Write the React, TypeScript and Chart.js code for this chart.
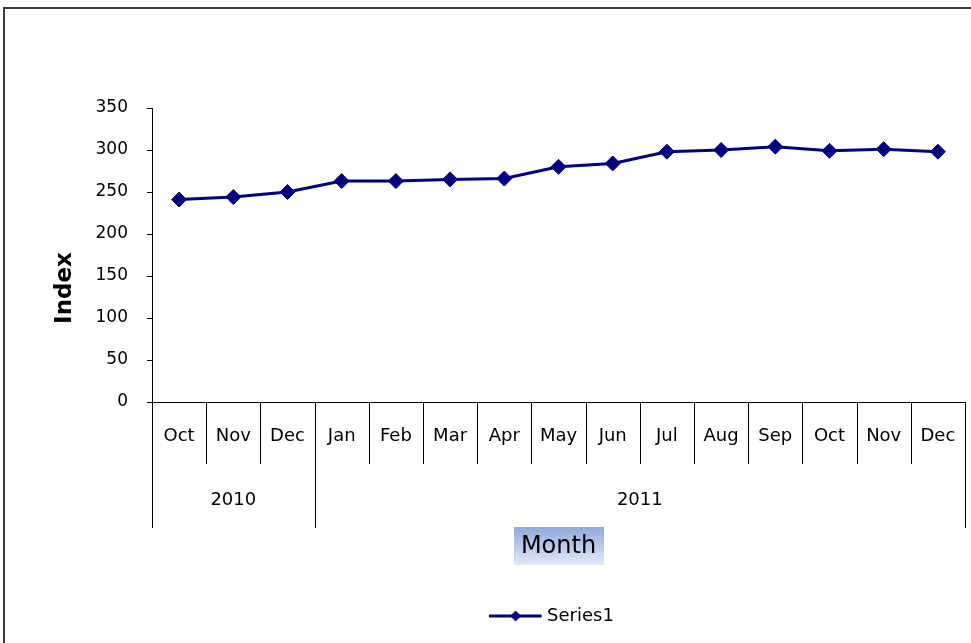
import React, { useEffect, useRef } from 'react';
import { Chart, registerables } from 'chart.js';

Chart.register(...registerables);

// ---- data ----
const months = ['Oct', 'Nov', 'Dec', 'Jan', 'Feb', 'Mar', 'Apr', 'May', 'Jun', 'Jul', 'Aug', 'Sep', 'Oct', 'Nov', 'Dec'];
const years = ['2010', '2011'];
const monthsPerYear = [3, 12];
const series1 = [241, 244, 250, 263, 263, 265, 266, 280, 284, 298, 300, 304, 299, 301, 298];
const seriesName = 'Series1';
const xTitle = 'Month';
const yTitle = 'Index';
const yMin = 0;
const yMax = 350;
const yStep = 50;

const W = 971;
const H = 643;
const NAVY = '#000080';
const FONT = '"DejaVu Sans", Arial, sans-serif';

function makeLegendImage(): HTMLCanvasElement {
  const c = document.createElement('canvas');
  c.width = 64;
  c.height = 14;
  const g = c.getContext('2d')!;
  g.strokeStyle = NAVY;
  g.lineWidth = 3;
  g.beginPath();
  g.moveTo(0, 7);
  g.lineTo(53, 7);
  g.stroke();
  g.fillStyle = NAVY;
  g.beginPath();
  g.moveTo(27, 1.5);
  g.lineTo(32.5, 7);
  g.lineTo(27, 12.5);
  g.lineTo(21.5, 7);
  g.closePath();
  g.fill();
  return c;
}

const decorPlugin = {
  id: 'decor',
  beforeDraw(chart: any) {
    const ctx = chart.ctx;
    ctx.save();
    ctx.fillStyle = '#ffffff';
    ctx.fillRect(0, 0, chart.width, chart.height);
    ctx.strokeStyle = '#3c3c3c';
    ctx.lineWidth = 2;
    ctx.beginPath();
    ctx.moveTo(4, chart.height + 5);
    ctx.lineTo(4, 8);
    ctx.lineTo(chart.width + 5, 8);
    ctx.stroke();
    ctx.restore();
  },
  afterDraw(chart: any) {
    const ctx = chart.ctx;
    const xs = chart.scales.x;
    const half = (xs.getPixelForValue(1) - xs.getPixelForValue(0)) / 2;
    ctx.save();
    ctx.strokeStyle = '#000';
    ctx.lineWidth = 1;

    // month-level separators
    for (let i = 0; i <= months.length; i++) {
      const b = i < months.length ? xs.getPixelForValue(i) - half : xs.getPixelForValue(months.length - 1) + half;
      const px = Math.round(b) + 0.5;
      ctx.beginPath();
      ctx.moveTo(px, xs.top);
      ctx.lineTo(px, xs.top + 62);
      ctx.stroke();
    }

    // year-level separators
    const bounds: number[] = [xs.getPixelForValue(0) - half];
    let count = 0;
    monthsPerYear.forEach((n) => {
      count += n;
      bounds.push(xs.getPixelForValue(count - 1) + half);
    });
    bounds.forEach((b) => {
      const px = Math.round(b) + 0.5;
      ctx.beginPath();
      ctx.moveTo(px, xs.top);
      ctx.lineTo(px, xs.top + 126);
      ctx.stroke();
    });
    ctx.fillStyle = '#000';
    ctx.font = `18px ${FONT}`;
    ctx.textAlign = 'center';
    ctx.textBaseline = 'middle';
    years.forEach((yr, i) => {
      ctx.fillText(yr, (bounds[i] + bounds[i + 1]) / 2, xs.top + 98);
    });

    // x title with gradient box
    const cx = (xs.left + xs.right) / 2;
    const bw = 90;
    const bh = 38;
    const bt = xs.top + 125;
    const grad = ctx.createLinearGradient(0, bt, 0, bt + bh);
    grad.addColorStop(0, '#8eaadd');
    grad.addColorStop(1, '#e2e9f7');
    ctx.fillStyle = grad;
    ctx.fillRect(Math.round(cx - bw / 2), bt, bw, bh);
    ctx.fillStyle = '#000';
    ctx.font = `24px ${FONT}`;
    ctx.fillText(xTitle, cx, bt + bh / 2 + 1);

    // y title
    ctx.translate(65, 288);
    ctx.rotate(-Math.PI / 2);
    ctx.font = `bold 23px ${FONT}`;
    ctx.fillText(yTitle, 0, 0);
    ctx.restore();
  },
};

export default function App() {
  const ref = useRef<HTMLCanvasElement>(null);
  useEffect(() => {
    if (!ref.current) return;
    const legendImg = makeLegendImage();
    const chart = new Chart(ref.current, {
      type: 'line',
      data: {
        labels: months,
        datasets: [
          {
            label: seriesName,
            data: series1,
            borderColor: NAVY,
            backgroundColor: NAVY,
            borderWidth: 3,
            pointStyle: 'rectRot',
            pointRadius: 7.5,
            pointBackgroundColor: NAVY,
            pointBorderColor: NAVY,
            pointBorderWidth: 1,
            tension: 0,
          },
        ],
      },
      options: {
        responsive: false,
        animation: false,
        devicePixelRatio: 1,
        layout: { autoPadding: false, padding: { left: 0, right: 6, top: 108, bottom: 8 } },
        plugins: {
          legend: {
            position: 'bottom',
            fullSize: false,
            labels: {
              usePointStyle: true,
              pointStyle: legendImg as any,
              pointStyleWidth: 35,
              padding: 10,
              color: '#000',
              font: { family: FONT, size: 18 },
            },
          },
          tooltip: { enabled: false },
        },
        scales: {
          x: {
            type: 'category',
            offset: true,
            afterFit: (s: any) => {
              s.height = 195;
            },
            grid: {
              offset: true,
              drawOnChartArea: false,
              tickLength: 62,
              color: 'rgba(0,0,0,0)',
            },
            border: { display: true, color: '#000', width: 1 },
            ticks: {
              autoSkip: false,
              maxRotation: 0,
              minRotation: 0,
              padding: -38,
              color: '#000',
              font: { family: FONT, size: 18 },
            },
          },
          y: {
            min: yMin,
            max: yMax,
            afterFit: (s: any) => {
              s.width = 152;
            },
            grid: {
              drawOnChartArea: false,
              tickLength: 5,
              color: '#000',
            },
            border: { color: '#000', width: 1 },
            ticks: {
              stepSize: yStep,
              padding: 19,
              color: '#000',
              font: { family: FONT, size: 17 },
            },
          },
        },
      },
      plugins: [decorPlugin],
    });
    return () => chart.destroy();
  }, []);

  return (
    <div style={{ position: 'absolute', left: 0, top: 0, width: W, height: H, background: '#fff', overflow: 'hidden' }}>
      <canvas ref={ref} width={W} height={H} style={{ display: 'block', width: W, height: H }} />
    </div>
  );
}
